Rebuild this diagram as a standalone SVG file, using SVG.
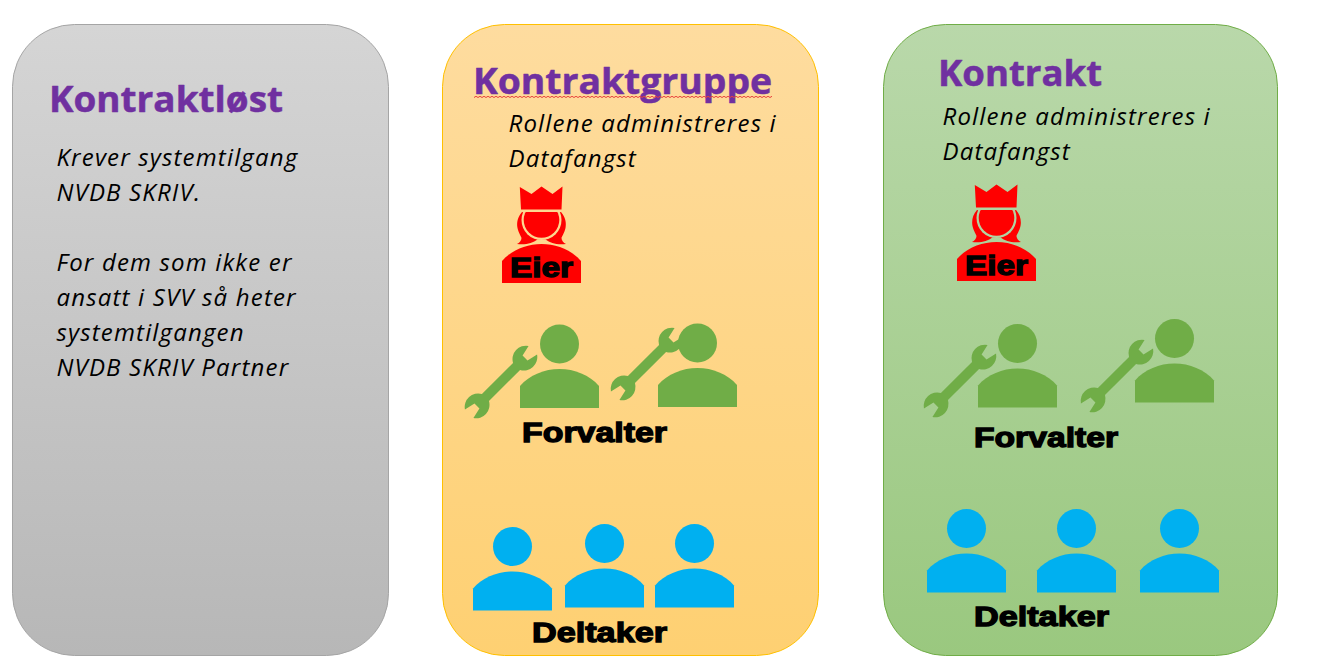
<svg xmlns="http://www.w3.org/2000/svg" xmlns:xlink="http://www.w3.org/1999/xlink" width="1320" height="670" viewBox="0 0 1320 670">
<style>
.title{font-family:"Open Sans","Noto Sans",sans-serif;font-weight:700;font-size:36px;fill:#7030a0;stroke:#7030a0;stroke-width:.5;stroke-linejoin:round}
.body{font-family:"Open Sans","Noto Sans",sans-serif;font-style:italic;font-size:24px;letter-spacing:1.17px;fill:#000}
.role{font-family:"Liberation Sans",Arial,sans-serif;font-weight:700;font-size:28px;fill:#000;stroke:#000;stroke-width:1.3}
.green{fill:#70ad47}.blue{fill:#00b0f0}
</style>
<defs>
<linearGradient id="gGrey" x1="0" y1="0" x2="0" y2="1"><stop offset="0" stop-color="#d5d5d5"/><stop offset="1" stop-color="#b7b7b7"/></linearGradient>
<linearGradient id="gOrange" x1="0" y1="0" x2="0" y2="1"><stop offset="0" stop-color="#fedc9f"/><stop offset="1" stop-color="#fed072"/></linearGradient>
<linearGradient id="gGreen" x1="0" y1="0" x2="0" y2="1"><stop offset="0" stop-color="#b9d8aa"/><stop offset="1" stop-color="#9ac87f"/></linearGradient>
<pattern id="wavy" width="4" height="2" patternUnits="userSpaceOnUse" x="474" y="96"><path d="M0 1.500L2 0.300L4 1.500" fill="none" stroke="#e8403a" stroke-width="1"/></pattern>
<g id="person"><circle cx="0" cy="0" r="19.500"/><path d="M-39.500 64V42C-30 31-15 25 0 25S30 31 39.500 42V64Z"/></g>
<path id="wrench" transform="rotate(-45)" d="M-22 -5H22A13.500 13.500 0 0 1 45 -6L34 -3.500V3.500L45 6A13.500 13.500 0 0 1 22 5H-22A13.500 13.500 0 0 1 -45 6L-34 3.500V-3.500L-45 -6A13.500 13.500 0 0 1 -22 -5Z"/>
<g id="owner">
<path fill="#f00" d="M-39.500 56V34C-30 23-15 17 0 17S30 23 39.500 34V56Z"/>
<path fill="#f00" d="M-19.500 -15C-24 -10-25 -4-24 1S-20 10-20 11C-20 13-22 16-24.500 17C-15 18-9 16-4 12.500H4C9 16 15 18 24.500 17C22 16 20 13 20 11C20 10 23 6 24 1S24 -10 19.500 -15Z"/>
<circle cx="0" cy="-7" r="20" fill="currentColor"/>
<circle cx="0" cy="-7" r="17.800" fill="#f00"/>
<rect x="-21" y="-18" width="42" height="3" fill="currentColor"/>
<path fill="#f00" d="M-21.700 -40L-10 -33L0 -40.500L11 -33L21 -40.500L20 -17.500H-20.500Z"/>
</g>
</defs>
<rect width="1320" height="670" fill="#fff"/>
<g id="connectors"/>
<g id="panel-kontraktlost">
<rect x="12.500" y="24.500" width="376" height="631" rx="62" fill="url(#gGrey)" stroke="#a5a5a5"/>
<text class="title" x="49" y="112" textLength="234" lengthAdjust="spacingAndGlyphs">Kontraktløst</text>
<text class="body" x="56.500" y="166">Krever systemtilgang</text>
<text class="body" x="56.500" y="201">NVDB SKRIV.</text>
<text class="body" x="56.500" y="271">For dem som ikke er</text>
<text class="body" x="56.500" y="306">ansatt i SVV så heter</text>
<text class="body" x="56.500" y="341">systemtilgangen</text>
<text class="body" x="56.500" y="376">NVDB SKRIV Partner</text>
</g>
<g id="panel-kontraktgruppe">
<rect x="442.500" y="24.500" width="376" height="631" rx="62" fill="url(#gOrange)" stroke="#ffc000"/>
<text class="title" x="473" y="94" textLength="299" lengthAdjust="spacingAndGlyphs">Kontraktgruppe</text>
<rect x="474" y="96" width="298" height="2" fill="url(#wavy)"/>
<text class="body" x="508.500" y="132">Rollene administreres i</text>
<text class="body" x="508.500" y="167">Datafangst</text>
<use xlink:href="#owner" href="#owner" x="541.500" y="227" color="#fdd890"/>
<text class="role" x="510" y="277" textLength="63" lengthAdjust="spacingAndGlyphs">Eier</text>
<g class="green">
<use xlink:href="#wrench" href="#wrench" x="501" y="382"/>
<use xlink:href="#person" href="#person" x="559.500" y="344"/>
<use xlink:href="#wrench" href="#wrench" x="647" y="364"/>
<use xlink:href="#person" href="#person" x="697.500" y="343"/>
</g>
<text class="role" x="522" y="442" textLength="145" lengthAdjust="spacingAndGlyphs">Forvalter</text>
<g class="blue">
<use xlink:href="#person" href="#person" x="512.500" y="546.500"/>
<use xlink:href="#person" href="#person" x="604.500" y="543.500"/>
<use xlink:href="#person" href="#person" x="694.500" y="543.500"/>
</g>
<text class="role" x="532" y="642" textLength="135" lengthAdjust="spacingAndGlyphs">Deltaker</text>
</g>
<g id="panel-kontrakt">
<rect x="883.500" y="24.500" width="394" height="631" rx="62" fill="url(#gGreen)" stroke="#70ad47"/>
<text class="title" x="938" y="86" textLength="164" lengthAdjust="spacingAndGlyphs">Kontrakt</text>
<text class="body" x="942.500" y="125">Rollene administreres i</text>
<text class="body" x="942.500" y="160">Datafangst</text>
<use xlink:href="#owner" href="#owner" x="996.500" y="225" color="#b2d4a2"/>
<text class="role" x="965" y="275" textLength="63" lengthAdjust="spacingAndGlyphs">Eier</text>
<g class="green">
<use xlink:href="#wrench" href="#wrench" x="960" y="381"/>
<use xlink:href="#person" href="#person" x="1017.500" y="343.500"/>
<use xlink:href="#wrench" href="#wrench" x="1117" y="376"/>
<use xlink:href="#person" href="#person" x="1174.500" y="338.500"/>
</g>
<text class="role" x="974" y="447" textLength="144" lengthAdjust="spacingAndGlyphs">Forvalter</text>
<g class="blue">
<use xlink:href="#person" href="#person" x="966.500" y="528.500"/>
<use xlink:href="#person" href="#person" x="1076.500" y="528.500"/>
<use xlink:href="#person" href="#person" x="1179.500" y="528.500"/>
</g>
<text class="role" x="974" y="626" textLength="135" lengthAdjust="spacingAndGlyphs">Deltaker</text>
</g>
</svg>
